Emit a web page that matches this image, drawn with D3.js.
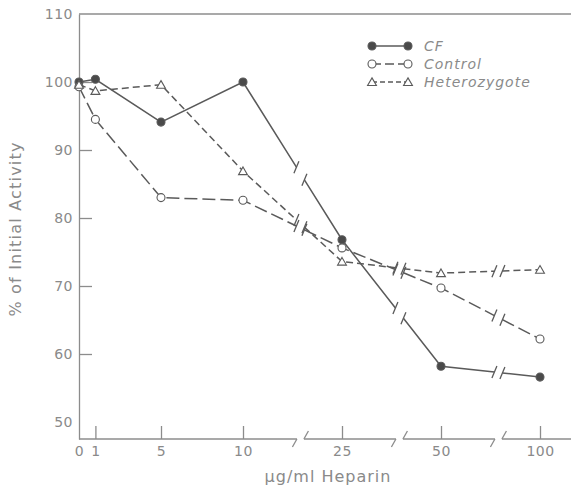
<!DOCTYPE html>
<html>
<head>
<meta charset="utf-8">
<script src="https://cdn.jsdelivr.net/npm/d3@7"></script>
<style>
    body { margin: 0; background: #fff; }
    text { font-family: "DejaVu Sans", sans-serif; fill: #8a8a8a; }
</style>
</head>
<body>
<svg id="chart" width="571" height="489"></svg>
<script>
/*global d3*/

// heparin doses (ug/ml), one point per dose
var doses = [0, 1, 5, 10, 25, 50, 100];
var cfValues = [100, 100.4, 94.1, 100, 76.8, 58.2, 56.6];
var controlValues = [99.3, 94.5, 83, 82.6, 75.6, 69.7, 62.2];
var heteroValues = [99.6, 98.7, 99.6, 86.9, 73.6, 71.9, 72.4];

var xTickValues = [0, 1, 5, 10, 25, 50, 100];
var yTickValues = [50, 60, 70, 80, 90, 100, 110];
// the axis is broken after these doses
var breakAfter = [10, 25, 50];

var seriesNames = ["CF", "Control", "Heterozygote"];

(function () {
    "use strict";

    var svg = d3.select("#chart"),
        ink = "#5a5a5a",
        axisInk = "#8c8c8c",
        x,
        y,
        series,
        line,
        breakXs,
        gap = 4;

    // linear up to 10, then equal steps for 25 / 50 / 100
    x = d3.scaleLinear()
        .domain([0, 10, 25, 50, 100])
        .range([79, 243, 342, 441, 540]);

    y = d3.scaleLinear()
        .domain([47.5, 110])
        .range([439, 14]);

    breakXs = breakAfter.map(function (d) {
        var next = doses[doses.indexOf(d) + 1];
        return x(d) + 0.58 * (x(next) - x(d));
    });

    // top frame line
    svg.append("line")
        .attr("x1", x(0)).attr("x2", 571)
        .attr("y1", y(110)).attr("y2", y(110))
        .attr("stroke", axisInk).attr("stroke-width", 1.3);

    // y axis, ticks pointing inwards
    var yAxis = svg.append("g")
        .attr("transform", "translate(" + x(0) + ",0)")
        .call(d3.axisLeft(y).tickValues(yTickValues).tickSizeInner(-13).tickSizeOuter(0).tickPadding(6));
    yAxis.select(".domain").attr("stroke", axisInk).attr("stroke-width", 1.3);
    yAxis.selectAll(".tick line")
        .attr("stroke", axisInk).attr("stroke-width", 1.3)
        .filter(function (d) { return d === 50 || d === 110; })
        .remove();
    yAxis.selectAll(".tick text")
        .attr("font-size", 14).attr("fill", "#8a8a8a")
        .attr("font-family", "DejaVu Sans").attr("letter-spacing", 0.5);

    // x axis: ticks and labels from d3, baseline drawn by hand because of the breaks
    var xAxis = svg.append("g")
        .attr("transform", "translate(0," + y.range()[0] + ")")
        .call(d3.axisBottom(x).tickValues(xTickValues).tickSizeInner(-13).tickSizeOuter(0).tickPadding(7));
    xAxis.select(".domain").remove();
    xAxis.selectAll(".tick line")
        .attr("stroke", axisInk).attr("stroke-width", 1.3)
        .filter(function (d) { return d === 0; })
        .remove();
    xAxis.selectAll(".tick text")
        .attr("font-size", 14).attr("fill", "#8a8a8a")
        .attr("font-family", "DejaVu Sans").attr("letter-spacing", 0.5);

    var baseY = y.range()[0],
        stops = [x(0)],
        base = svg.append("g")
            .attr("stroke", axisInk).attr("stroke-width", 1.3).attr("fill", "none");
    breakXs.forEach(function (bx) {
        stops.push(bx - 3.5, bx + 3.5);
    });
    stops.push(571);
    for (var s = 0; s < stops.length; s += 2) {
        base.append("line")
            .attr("x1", stops[s]).attr("x2", stops[s + 1])
            .attr("y1", baseY).attr("y2", baseY);
    }
    breakXs.forEach(function (bx) {
        base.append("line")
            .attr("x1", bx - 3.5).attr("y1", baseY)
            .attr("x2", bx - 8).attr("y2", baseY + 8);
        base.append("line")
            .attr("x1", bx + 3.5).attr("y1", baseY)
            .attr("x2", bx + 8).attr("y2", baseY - 8);
    });

    // axis titles
    svg.append("text")
        .attr("transform", "translate(21,229) rotate(-90)")
        .attr("text-anchor", "middle")
        .attr("font-size", 16).attr("letter-spacing", 1.2)
        .text("% of Initial Activity");

    svg.append("text")
        .attr("x", 328).attr("y", 482)
        .attr("text-anchor", "middle")
        .attr("font-size", 16).attr("letter-spacing", 1)
        .text("\u00b5g/ml Heparin");

    series = [
        {name: seriesNames[0], values: cfValues, dash: null, marker: "dot"},
        {name: seriesNames[1], values: controlValues, dash: "13,5", marker: "ring"},
        {name: seriesNames[2], values: heteroValues, dash: "7,4", marker: "triangle"}
    ];

    line = d3.line()
        .x(function (d) { return d[0]; })
        .y(function (d) { return d[1]; });

    function drawMarker(g, kind, px, py) {
        if (kind === "triangle") {
            g.append("path")
                .attr("d", d3.symbol(d3.symbolTriangle, 34)())
                .attr("transform", "translate(" + px + "," + (py + 1) + ")")
                .attr("fill", "#fff").attr("stroke", ink).attr("stroke-width", 1.1);
        } else {
            g.append("circle")
                .attr("cx", px).attr("cy", py).attr("r", 4)
                .attr("fill", kind === "dot" ? "#4a4a4a" : "#fff")
                .attr("stroke", ink).attr("stroke-width", 1.1);
        }
    }

    series.forEach(function (ser) {
        var g = svg.append("g"),
            runs = [[]],
            slashes = [];

        doses.forEach(function (dose, i) {
            var p = [x(dose), y(ser.values[i])],
                b = breakAfter.indexOf(dose),
                q,
                lerp;
            runs[runs.length - 1].push(p);
            if (b >= 0 && i < doses.length - 1) {
                q = [x(doses[i + 1]), y(ser.values[i + 1])];
                lerp = function (px) {
                    var t = (px - p[0]) / (q[0] - p[0]);
                    return [px, p[1] + t * (q[1] - p[1])];
                };
                runs[runs.length - 1].push(lerp(breakXs[b] - gap));
                runs.push([lerp(breakXs[b] + gap)]);
                slashes.push(lerp(breakXs[b] - gap), lerp(breakXs[b] + gap));
            }
        });

        runs.forEach(function (run) {
            g.append("path")
                .attr("d", line(run))
                .attr("fill", "none")
                .attr("stroke", ink).attr("stroke-width", 1.5)
                .attr("stroke-dasharray", ser.dash);
        });

        slashes.forEach(function (pt) {
            g.append("line")
                .attr("x1", pt[0] - 2.5).attr("y1", pt[1] + 6)
                .attr("x2", pt[0] + 2.5).attr("y2", pt[1] - 6)
                .attr("stroke", ink).attr("stroke-width", 1.3);
        });

        doses.forEach(function (dose, i) {
            drawMarker(g, ser.marker, x(dose), y(ser.values[i]));
        });
    });

    // legend
    var legend = svg.append("g");
    series.forEach(function (ser, i) {
        var ly = 46 + i * 18;
        legend.append("line")
            .attr("x1", 372).attr("x2", 408)
            .attr("y1", ly).attr("y2", ly)
            .attr("stroke", ink).attr("stroke-width", 1.3)
            .attr("stroke-dasharray", ser.dash === null ? null : (i === 1 ? "9,4" : "5,3"));
        drawMarker(legend, ser.marker, 372, ly);
        drawMarker(legend, ser.marker, 408, ly);
        legend.append("text")
            .attr("x", 424).attr("y", ly + 5)
            .attr("font-size", 14).attr("font-style", "italic")
            .attr("letter-spacing", 1)
            .text(ser.name);
    });
}());
</script>
</body>
</html>
